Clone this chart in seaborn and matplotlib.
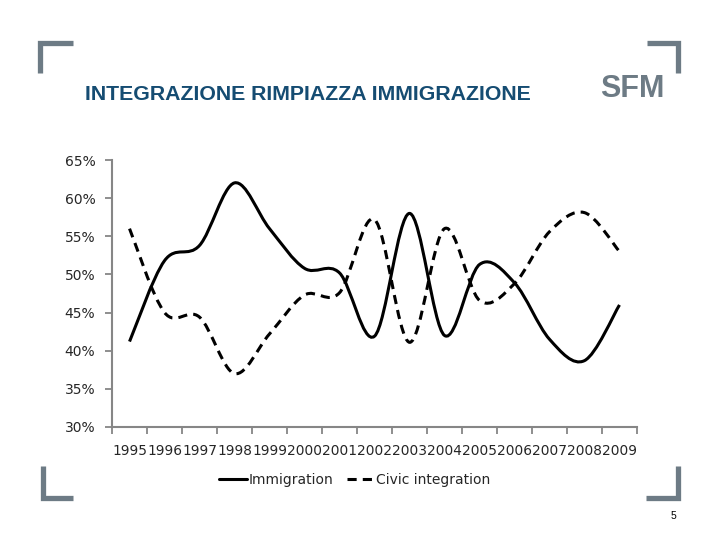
import numpy as np
import seaborn as sns
import matplotlib.pyplot as plt
from matplotlib.path import Path
from matplotlib.patches import PathPatch
from matplotlib.lines import Line2D

years = ['1995', '1996', '1997', '1998', '1999', '2000', '2001', '2002',
         '2003', '2004', '2005', '2006', '2007', '2008', '2009']
immigration = [41.2, 51.8, 53.8, 62.0, 56.0, 50.8, 50.2, 41.9,
               58.0, 42.0, 51.3, 48.9, 41.5, 38.7, 46.0]
civic = [56.0, 45.0, 44.4, 37.0, 42.2, 47.3, 47.6, 57.2,
         41.1, 56.0, 46.6, 48.8, 55.6, 58.1, 53.0]
yticks = [30, 35, 40, 45, 50, 55, 60, 65]

title = 'INTEGRAZIONE RIMPIAZZA IMMIGRAZIONE'
grey = '#6d7b85'

sns.set_style('white')
plt.rcParams['font.family'] = ['DejaVu Sans']


def smooth_path(xs, ys):
    # excel style smoothed line: cubic bezier through each point
    p = np.column_stack([xs, ys]).astype(float)
    verts = [p[0]]
    codes = [Path.MOVETO]
    n = len(p)
    for i in range(n - 1):
        p0 = p[i - 1] if i > 0 else p[i]
        p3 = p[i + 2] if i + 2 < n else p[i + 1]
        c1 = p[i] + (p[i + 1] - p0) / 6
        c2 = p[i + 1] - (p3 - p[i]) / 6
        verts += [c1, c2, p[i + 1]]
        codes += [Path.CURVE4] * 3
    return Path(verts, codes)


fig = plt.figure(figsize=(7.2, 5.4), dpi=100)
ax = fig.add_axes([0.1556, 0.2093, 0.7291, 0.4944])

x = np.arange(len(years))
ax.add_patch(PathPatch(smooth_path(x, immigration), fill=False,
                       edgecolor='black', lw=2.2, capstyle='butt'))
ax.add_patch(PathPatch(smooth_path(x, civic), fill=False,
                       edgecolor='black', lw=2.2, linestyle=(0, (3, 2)),
                       capstyle='butt'))

ax.set_xlim(-0.5, len(years) - 0.5)
ax.set_ylim(30, 65)
ax.set_yticks(yticks)
ax.set_yticklabels([f'{v}%' for v in yticks], fontsize=10)
ax.set_xticks(np.arange(-0.5, len(years)), labels=[''] * (len(years) + 1))
ax.set_xticks(x, labels=years, minor=True, fontsize=9.9)
ax.tick_params(axis='x', which='major', direction='out', length=5,
               width=1.3, color='#868686', bottom=True)
ax.tick_params(axis='x', which='minor', length=0, pad=12)
ax.tick_params(axis='y', direction='out', length=5, width=1.3,
               color='#868686', left=True, pad=7)
sns.despine(ax=ax)
for s in ['left', 'bottom']:
    ax.spines[s].set_color('#868686')
    ax.spines[s].set_linewidth(1.5)

handles = [Line2D([], [], color='black', lw=2.2),
           Line2D([], [], color='black', lw=2.2, linestyle=(0, (3, 2)))]
fig.legend(handles, ['Immigration', 'Civic integration'], loc='center',
           bbox_to_anchor=(355 / 720, 1 - 480 / 540), ncol=2, frameon=False,
           fontsize=10, handlelength=2.0, handletextpad=0.1,
           columnspacing=1.0)

fig.text(85 / 720, 1 - 94 / 540, title, fontsize=15.3, color='#154c72',
         family='Liberation Sans', weight='bold', va='center', ha='left')
fig.text(664 / 720, 1 - 89 / 540, 'SFM', fontsize=22, color=grey,
         family='Liberation Sans', weight='bold', va='center', ha='right')
fig.text(673 / 720, 1 - 516 / 540, '5', fontsize=7.5, color='black',
         family='Liberation Sans', va='center', ha='center')

# corner brackets
W, H = 720, 540
for xs, ys in [([40, 40, 73], [73, 42.5, 42.5]),
               ([647, 677.5, 677.5], [42.5, 42.5, 73]),
               ([42.5, 42.5, 73], [466, 497.5, 497.5]),
               ([646, 677.5, 677.5], [497.5, 497.5, 466])]:
    fig.add_artist(Line2D([v / W for v in xs], [1 - v / H for v in ys],
                          color=grey, lw=3.8, solid_capstyle='butt',
                          solid_joinstyle='miter'))

fig.savefig('out.png', dpi=100, facecolor='white')
